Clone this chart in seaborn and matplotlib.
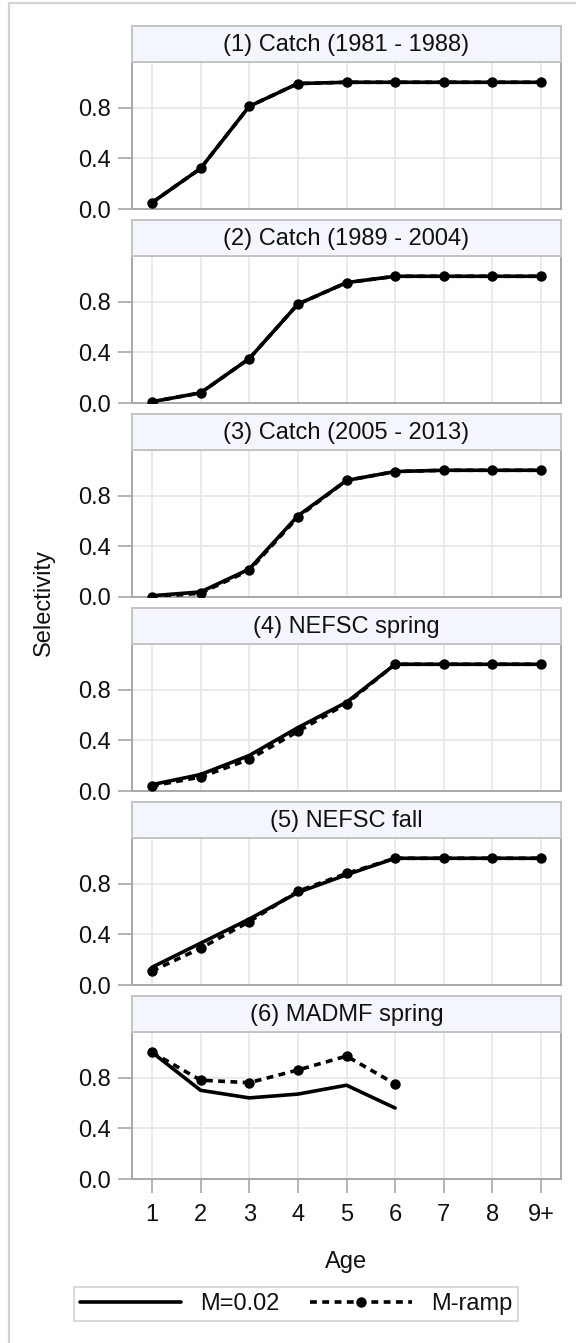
import numpy as np
import pandas as pd
import matplotlib
matplotlib.use("Agg")
import matplotlib.pyplot as plt
from matplotlib.lines import Line2D
import seaborn as sns

# ---------------- data ----------------
ages = [1, 2, 3, 4, 5, 6, 7, 8, 9]
age_labels = ["1", "2", "3", "4", "5", "6", "7", "8", "9+"]
panel_titles = ["(1) Catch (1981 - 1988)", "(2) Catch (1989 - 2004)",
                "(3) Catch (2005 - 2013)", "(4) NEFSC spring",
                "(5) NEFSC fall", "(6) MADMF spring"]

m002_p1 = [0.05, 0.32, 0.81, 0.99, 1.00, 1.00, 1.00, 1.00, 1.00]
m002_p2 = [0.01, 0.08, 0.35, 0.78, 0.95, 1.00, 1.00, 1.00, 1.00]
m002_p3 = [0.01, 0.04, 0.22, 0.64, 0.92, 0.99, 1.00, 1.00, 1.00]
m002_p4 = [0.05, 0.13, 0.28, 0.50, 0.70, 1.00, 1.00, 1.00, 1.00]
m002_p5 = [0.14, 0.33, 0.52, 0.73, 0.87, 1.00, 1.00, 1.00, 1.00]
m002_p6 = [1.00, 0.70, 0.64, 0.67, 0.74, 0.56, np.nan, np.nan, np.nan]

mramp_p1 = [0.05, 0.32, 0.81, 0.99, 1.00, 1.00, 1.00, 1.00, 1.00]
mramp_p2 = [0.01, 0.08, 0.35, 0.78, 0.95, 1.00, 1.00, 1.00, 1.00]
mramp_p3 = [0.00, 0.03, 0.21, 0.63, 0.92, 0.99, 1.00, 1.00, 1.00]
mramp_p4 = [0.04, 0.11, 0.25, 0.47, 0.69, 1.00, 1.00, 1.00, 1.00]
mramp_p5 = [0.11, 0.29, 0.50, 0.74, 0.88, 1.00, 1.00, 1.00, 1.00]
mramp_p6 = [1.00, 0.78, 0.76, 0.86, 0.97, 0.75, np.nan, np.nan, np.nan]

m002 = [m002_p1, m002_p2, m002_p3, m002_p4, m002_p5, m002_p6]
mramp = [mramp_p1, mramp_p2, mramp_p3, mramp_p4, mramp_p5, mramp_p6]
series_names = ["M=0.02", "M-ramp"]

# ---------------- style ----------------
sns.set_theme(style="white")
plt.rcParams["font.family"] = ["Liberation Sans", "DejaVu Sans"]
FS = 17
W, H = 576, 1343
fig = plt.figure(figsize=(W / 100, H / 100), dpi=100)


def fx(px):
    return px / W


def fh(px):
    return px / H


FRAME = "#A8A8A8"
STRIP_EDGE = "#C4C4C4"
STRIP_FACE = "#F4F6FD"
GRID = "#E6E6E6"
TXT = "#111111"
LW = 2.6
MS = 7.5
DASH = (0, (1.9, 1.5))

ax_left, ax_right = 132, 561
axes_top0, axes_h, strip_h, period = 62, 147, 36, 194

for i in range(6):
    top = axes_top0 + period * i
    ax = fig.add_axes([fx(ax_left), 1 - fh(top + axes_h), fx(ax_right - ax_left), fh(axes_h)])
    df = pd.DataFrame({"Age": ages, "M=0.02": m002[i], "M-ramp": mramp[i]})
    sns.lineplot(data=df, x="Age", y="M=0.02", ax=ax, color="black", lw=LW,
                 legend=False, zorder=3)
    sns.lineplot(data=df, x="Age", y="M-ramp", ax=ax, color="black", lw=LW,
                 linestyle=DASH, marker="o", markersize=MS, markeredgecolor="black",
                 markeredgewidth=0, legend=False, zorder=4)
    ax.set_xlim(0.59, 9.41)
    ax.set_ylim(0, 1.16)
    ax.set_xticks(ages)
    ax.set_yticks([0.0, 0.4, 0.8])
    ax.set_yticklabels(["0.0", "0.4", "0.8"], fontsize=FS, color=TXT)
    ax.grid(True, color=GRID, lw=1.2)
    ax.set_axisbelow(True)
    for s in ax.spines.values():
        s.set_color(FRAME)
        s.set_linewidth(1.4)
    ax.tick_params(axis="y", length=10, width=1.2, color=FRAME, pad=5, left=True)
    if i < 5:
        ax.tick_params(axis="x", bottom=False, labelbottom=False)
    else:
        ax.set_xticklabels(age_labels, fontsize=FS, color=TXT)
        ax.tick_params(axis="x", length=10, width=1.2, color=FRAME, pad=8, bottom=True)
    ax.set_xlabel("")
    ax.set_ylabel("")
    ax.set_facecolor("white")

    # strip header
    sax = fig.add_axes([fx(ax_left), 1 - fh(top), fx(ax_right - ax_left), fh(strip_h)])
    sax.set_facecolor(STRIP_FACE)
    sax.set_xticks([])
    sax.set_yticks([])
    for s in sax.spines.values():
        s.set_color(STRIP_EDGE)
        s.set_linewidth(1.4)
    sax.text(0.5, 0.47, panel_titles[i], ha="center", va="center",
             fontsize=FS, color=TXT, transform=sax.transAxes)

# axis labels
fig.text(fx(44), 1 - fh(602), "Selectivity", rotation=90, ha="center", va="center",
         fontsize=FS, color=TXT)
fig.text(fx(346), 1 - fh(1268), "Age", ha="center", va="baseline",
         fontsize=FS, color=TXT)

# legend
handles = [Line2D([], [], color="black", lw=LW),
           Line2D([], [], color="black", lw=LW, linestyle=DASH, marker="o",
                  markersize=MS, markeredgewidth=0)]
leg = fig.legend(handles, series_names, loc="center", bbox_to_anchor=(fx(296), 1 - fh(1304)),
                 ncol=2, fontsize=FS, frameon=True, fancybox=False, handlelength=4.3,
                 handletextpad=0.8, columnspacing=1.3, borderpad=0.25, edgecolor="#CFCFCF")
leg.get_frame().set_linewidth(1.4)
for t in leg.get_texts():
    t.set_color(TXT)

# outer border (top and left)
fig.add_artist(Line2D([fx(9), 1], [1 - fh(3), 1 - fh(3)], color="#D4D4D4", lw=1.6,
                      transform=fig.transFigure))
fig.add_artist(Line2D([fx(9), fx(9)], [1 - fh(3), 0], color="#D4D4D4", lw=1.6,
                      transform=fig.transFigure))

fig.savefig("out.png", dpi=100, facecolor="white")
